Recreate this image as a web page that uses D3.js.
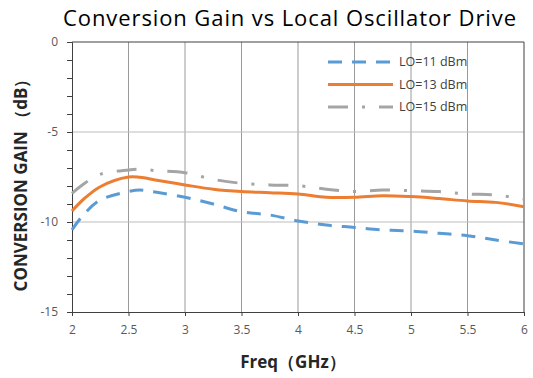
<html>
<head>
<script src="https://d3js.org/d3.v7.min.js"></script>
<style>
    body { margin: 0; background: #fff; }
    svg text { font-family: "Open Sans", "Liberation Sans", sans-serif; }
    .tick text { font-size: 12px; fill: #595959; }
</style>
</head>
<body>
<div id="chart"></div>
<script>
    var freq    = [2, 2.1, 2.25, 2.5, 2.6, 2.75, 3, 3.25, 3.5, 3.75, 4, 4.25, 4.5, 4.75, 5, 5.25, 5.5, 5.75, 6];
    var lo11    = [-10.44, -9.61, -8.78, -8.31, -8.22, -8.35, -8.63, -9.0, -9.43, -9.61, -9.94, -10.17, -10.3, -10.44, -10.5, -10.63, -10.76, -11.0, -11.22];
    var lo13    = [-9.39, -8.75, -8.04, -7.5, -7.52, -7.68, -7.94, -8.18, -8.31, -8.37, -8.44, -8.63, -8.63, -8.54, -8.59, -8.70, -8.83, -8.91, -9.15];
    var lo15    = [-8.41, -7.9, -7.35, -7.11, -7.07, -7.15, -7.26, -7.63, -7.85, -7.94, -7.98, -8.18, -8.31, -8.22, -8.26, -8.31, -8.44, -8.5, -8.72];
    var seriesNames = ["LO=11 dBm", "LO=13 dBm", "LO=15 dBm"];
    var xTicks = [2, 2.5, 3, 3.5, 4, 4.5, 5, 5.5, 6];
    var yTicks = [0, -5, -10, -15];

    var width = 533, height = 378;
    var margin = {top: 42, right: 9, bottom: 66, left: 72};
    var w = width - margin.left - margin.right;
    var h = height - margin.top - margin.bottom;

    var colors = ["#5B9BD5", "#ED7D31", "#A5A5A5"];
    var dashes = ["14,10", null, "20,14,3,14"];

    var svg = d3.select("#chart").append("svg")
        .attr("width", width)
        .attr("height", height);

    var x = d3.scaleLinear().domain([2, 6]).range([0, w]);
    var y = d3.scaleLinear().domain([-15, 0]).range([h, 0]);

    var g = svg.append("g")
        .attr("transform", "translate(" + margin.left + "," + margin.top + ")");

    // grid
    g.selectAll(".vgrid").data(xTicks.slice(1, -1)).enter().append("line")
        .attr("x1", d => x(d)).attr("x2", d => x(d))
        .attr("y1", 0).attr("y2", h)
        .attr("stroke", "#9a9a9a").attr("stroke-width", 1);
    g.selectAll(".hgrid").data(yTicks.slice(1, -1)).enter().append("line")
        .attr("x1", 0).attr("x2", w)
        .attr("y1", d => y(d)).attr("y2", d => y(d))
        .attr("stroke", "#bdbdbd").attr("stroke-width", 1);

    // axes
    var xAxis = g.append("g")
        .attr("transform", "translate(0," + h + ")")
        .call(d3.axisBottom(x).tickValues(xTicks).tickSize(4).tickPadding(9)
            .tickFormat(d3.format("")));
    var yAxis = g.append("g")
        .call(d3.axisLeft(y).tickValues(d3.range(-15, 1, 1)).tickSize(5).tickPadding(9)
            .tickFormat(d => yTicks.indexOf(d) >= 0 ? d : ""));
    [xAxis, yAxis].forEach(function(a) {
        a.select(".domain").attr("stroke", "#404040");
        a.selectAll(".tick line").attr("stroke", "#404040");
    });
    // top and right border
    g.append("line").attr("x1", 0).attr("x2", w).attr("y1", 0).attr("y2", 0).attr("stroke", "#404040");
    g.append("line").attr("x1", w).attr("x2", w).attr("y1", 0).attr("y2", h).attr("stroke", "#404040");

    // lines (smoothed like the original spreadsheet chart)
    var series = [lo11, lo13, lo15];
    var line = d3.line()
        .x((d, i) => x(freq[i]))
        .y(d => y(d))
        .curve(d3.curveCatmullRom.alpha(0.5));

    g.selectAll(".series").data(series).enter().append("path")
        .attr("d", line)
        .attr("fill", "none")
        .attr("stroke", (d, i) => colors[i])
        .attr("stroke-width", 3)
        .attr("stroke-dasharray", (d, i) => dashes[i]);

    // legend
    var legend = g.selectAll(".legend").data(seriesNames).enter().append("g")
        .attr("transform", (d, i) => "translate(256," + (20 + i * 22.5) + ")");
    legend.append("line")
        .attr("x1", 0).attr("x2", 65)
        .attr("stroke", (d, i) => colors[i])
        .attr("stroke-width", 3)
        .attr("stroke-dasharray", (d, i) => dashes[i]);
    legend.append("text")
        .attr("x", 71).attr("dy", "0.35em")
        .attr("font-size", 12.5)
        .attr("fill", "#404040")
        .text(d => d);

    // title and axis labels
    svg.append("text")
        .attr("x", 290).attr("y", 26)
        .attr("text-anchor", "middle")
        .attr("font-size", 22)
        .attr("letter-spacing", 0.9)
        .attr("fill", "#000")
        .text("Conversion Gain vs Local Oscillator Drive");

    svg.append("text")
        .attr("x", 293).attr("y", 368)
        .attr("text-anchor", "middle")
        .attr("font-size", 17)
        .attr("font-weight", "bold")
        .attr("fill", "#262626")
        .text("Freq（GHz）");

    svg.append("text")
        .attr("transform", "translate(27,181) rotate(-90)")
        .attr("text-anchor", "middle")
        .attr("font-size", 17)
        .attr("font-weight", "bold")
        .attr("fill", "#262626")
        .text("CONVERSION GAIN （dB）");
</script>
</body>
</html>
